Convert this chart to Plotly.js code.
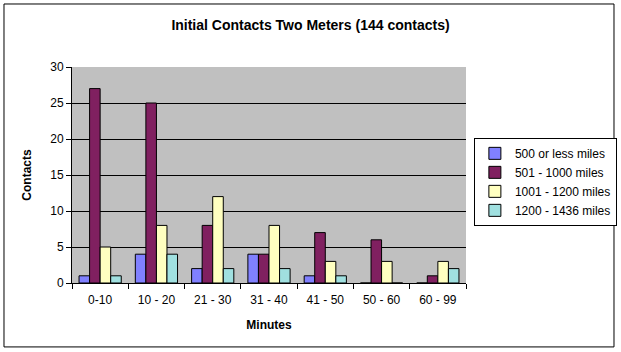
<!DOCTYPE html>
<html>
<head>
<meta charset="utf-8">
<script src="https://cdn.plot.ly/plotly-3.0.1.min.js"></script>
<style>
html,body{margin:0;padding:0;background:#fff;}
#chart{width:621px;height:352px;}
</style>
</head>
<body>
<div id="chart"></div>
<script>
const categories = ["0-10", "10 - 20", "21 - 30", "31 - 40", "41 - 50", "50 - 60", "60 - 99"];
const seriesNames = ["500 or less miles", "501 - 1000 miles", "1001 - 1200 miles", "1200 - 1436 miles"];
const miles500 = [1, 4, 2, 4, 1, 0, 0];
const miles1000 = [27, 25, 8, 4, 7, 6, 1];
const miles1200 = [5, 8, 12, 8, 3, 3, 3];
const miles1436 = [1, 4, 2, 2, 1, 0, 2];
const colors = ["#8080FF", "#802060", "#FFFFC0", "#A0E0E0"];

const values = [miles500, miles1000, miles1200, miles1436];
const traces = values.map((v, i) => ({
  type: "bar",
  name: seriesNames[i],
  x: categories,
  y: v,
  marker: {color: colors[i], line: {color: "#000", width: 1}}
}));

const fontFam = "Liberation Sans, Arial, sans-serif";
const layout = {
  width: 621, height: 352,
  margin: {l: 72, r: 155, t: 67, b: 69, autoexpand: false},
  paper_bgcolor: "#fff",
  plot_bgcolor: "#C0C0C0",
  font: {family: fontFam, size: 12, color: "#000"},
  title: {text: "<b>Initial Contacts Two Meters (144 contacts)</b>", font: {family: fontFam, size: 14, color: "#000"}, x: 0.5, xanchor: "center", y: 0.93, yanchor: "middle"},
  barmode: "group",
  bargap: 0.25,
  bargroupgap: 0,
  showlegend: true,
  legend: {x: 1.02, xanchor: "left", y: 0.672, yanchor: "top", bgcolor: "#fff", bordercolor: "#000", borderwidth: 1, font: {family: fontFam, size: 12, color: "#000"}, tracegroupgap: 0, itemwidth: 30},
  xaxis: {
    title: {text: "<b>Minutes</b>", font: {family: fontFam, size: 12}, standoff: 14},
    showline: true, linecolor: "#000", linewidth: 1,
    ticks: "outside", tickson: "boundaries", ticklen: 5, tickcolor: "#000",
    ticklabelstandoff: 6,
    tickfont: {family: fontFam, size: 12},
    showgrid: false, mirror: false
  },
  yaxis: {
    title: {text: "<b>Contacts</b>", font: {family: fontFam, size: 12}, standoff: 16},
    range: [0, 30], dtick: 5, tick0: 0,
    showline: true, linecolor: "#000", linewidth: 1,
    ticks: "outside", ticklen: 5, tickcolor: "#000",
    showgrid: true, gridcolor: "#000", gridwidth: 1,
    zeroline: false,
    tickfont: {family: fontFam, size: 12}
  },
  shapes: [
    {type: "rect", xref: "paper", yref: "paper", x0: -0.1726, x1: 1.3756, y0: -0.296, y1: 1.2917, line: {color: "#000", width: 1}, fillcolor: "rgba(0,0,0,0)", layer: "below"}
  ]
};

Plotly.newPlot("chart", traces, layout, {displayModeBar: false, staticPlot: true});
</script>
</body>
</html>
